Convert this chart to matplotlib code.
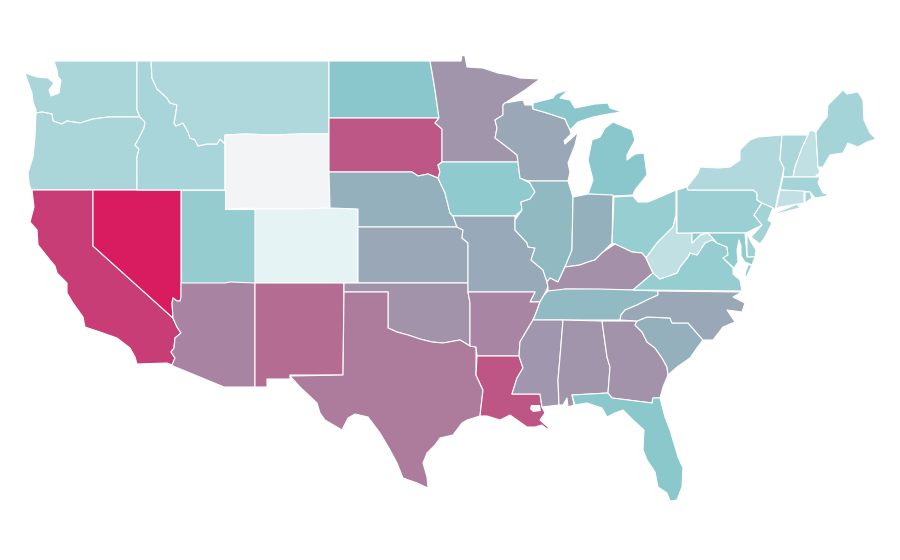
import matplotlib
matplotlib.use("Agg")
import matplotlib.pyplot as plt
from matplotlib.collections import PolyCollection
from matplotlib.colors import LinearSegmentedColormap, Normalize

STATES = ["WA","OR","CA","NV","ID","MT","WY","UT","CO","AZ","NM","ND","SD","NE","KS","OK","TX",
          "MN","IA","MO","AR","LA","WI","IL","MI","IN","OH","KY","TN","MS","AL","GA","FL","SC","NC",
          "VA","WV","PA","NY","VT","NH","ME","MA","CT","RI","NJ","DE","MD"]
VALUES = [24.5,24.5,87,100,25,23,0,32,5,60.5,69.5,35.5,77,44,47.5,55,63.5,
          54,33.5,46.5,60,77.5,47.5,41,35.5,44,30.5,56,40.5,53.5,54,55,35,44,47.5,
          31,17,29.5,22,24,17,26.5,26,17,26,27,28.5,33]
COLOR_STOPS = [(0.0,"#f3f4f6"),(0.05,"#e5f3f4"),(0.17,"#c0e0e3"),(0.35,"#8ac8cc"),(1.0,"#d91b60")]

# Simplified state outlines in map units (map geometry, not data values)
SHAPES = {
"WA":[[(54,61),(137,61),(137,110),(140,117),(108,117),(93,119),(80,123),(67,121),(62,124),(53,121),(52,114),(42,112),(36,113),(36,110),(33,102),(32,93),(28,82),(25,73),(37,77),(48,78),(54,83),(49,90),(51,96),(59,93),(61,80),(58,77),(57,70)]],
"OR":[[(36,113),(42,112),(52,114),(53,121),(62,124),(67,121),(80,123),(93,119),(108,117),(140,117),(145,122),(144,128),(139,138),(135,145),(139,149),(137,157),(137,190),(31,190),(29,183),(28,173),(33,157),(35,137)]],
"CA":[[(32,190),(93,190),(93,246),(173,318),(177,327),(181,333),(175,338),(174,348),(171,352),(175,358),(172,365),(167,363),(137,364),(135,357),(130,348),(117,338),(100,332),(85,327),(83,317),(73,303),(67,293),(67,283),(57,273),(55,266),(50,260),(38,245),(37,230),(30,222),(34,207)]],
"NV":[[(93,190),(181,190),(181,297),(180,301),(177,301),(173,298),(172,303),(173,318),(93,246)]],
"ID":[[(137,61),(151,61),(152,78),(157,89),(167,98),(170,103),(177,105),(175,118),(174,123),(176,126),(183,123),(188,132),(190,138),(195,140),(198,146),(207,144),(217,144),(220,139),(225,144),(225,190),(137,190),(137,157),(139,149),(135,145),(139,138),(144,128),(145,122),(140,117),(137,110)]],
"MT":[[(151,61),(329,61),(329,134),(300,134),(272,135),(245,134),(225,135),(225,144),(220,139),(217,144),(207,144),(198,146),(195,140),(190,138),(188,132),(183,123),(176,126),(174,123),(175,118),(177,105),(170,103),(167,98),(157,89),(152,78)]],
"WY":[[(225,135),(245,134),(272,135),(300,134),(329,134),(330,208),(300,209),(272,209),(245,208),(225,209)]],
"UT":[[(181,190),(225,190),(225,209),(255,209),(255,283),(181,283)]],
"CO":[[(255,209),(300,209),(330,208),(358,209),(358,283),(255,283)]],
"AZ":[[(181,283),(225,283),(230,282),(255,283),(255,387),(224,387),(173,366),(172,365),(175,358),(171,352),(174,348),(175,338),(181,333),(177,327),(173,318),(172,303),(173,298),(177,301),(180,301),(181,297)]],
"NM":[[(255,283),(344,283),(343,375),(290,375),(290,379),(267,379),(267,387),(255,387)]],
"ND":[[(329,61),(430,61),(432,72),(435,90),(439,118),(329,118)]],
"SD":[[(329,118),(439,118),(435,123),(442,129),(442,162),(438,165),(440,172),(438,178),(428,174),(418,176),(412,172),(329,172)]],
"NE":[[(329,172),(412,172),(418,176),(428,174),(438,178),(445,193),(450,213),(453,216),(457,227),(358,227),(358,209),(330,208)]],
"KS":[[(358,227),(457,227),(463,230),(462,238),(468,243),(468,283),(358,283)]],
"OK":[[(344,283),(468,283),(468,292),(470,303),(470,346),(460,340),(443,343),(432,342),(420,339),(408,335),(397,332),(388,328),(388,292),(344,292)]],
"TX":[[(344,292),(388,292),(388,328),(397,332),(408,335),(420,339),(432,342),(443,343),(460,340),(470,346),(476,347),(476,375),(483,390),(481,407),(480,416),(467,420),(462,423),(453,435),(440,438),(435,445),(427,453),(423,463),(427,477),(428,488),(417,483),(403,478),(397,463),(390,450),(380,433),(368,417),(355,414),(348,418),(342,430),(325,420),(320,413),(317,403),(300,387),(290,376),(343,375)]],
"MN":[[(430,61),(461,61),(462,55),(465,56),(467,67),(483,68),(498,73),(510,75),(520,78),(540,79),(525,90),(505,103),(503,105),(503,115),(495,120),(497,128),(495,138),(507,147),(517,155),(518,162),(442,162),(442,129),(435,123),(439,118),(435,90),(432,72)]],
"IA":[[(442,162),(518,162),(520,178),(530,183),(535,192),(530,199),(521,202),(522,210),(515,216),(453,216),(450,213),(445,193),(438,178),(440,172),(438,165)]],
"MO":[[(453,216),(515,216),(515,230),(527,243),(528,247),(535,248),(531,260),(543,270),(547,282),(548,287),(544,295),(540,302),(530,302),(535,292),(468,292),(468,243),(462,238),(463,230),(457,227)]],
"AR":[[(468,292),(535,292),(530,302),(540,302),(536,313),(533,320),(527,330),(520,342),(519,356),(477,356),(476,347),(470,346),(470,303)]],
"LA":[[(477,356),(519,356),(523,368),(517,378),(512,394),(540,394),(542,407),(545,413),(540,420),(548,427),(548,430),(542,425),(535,427),(527,427),(510,415),(500,420),(487,416),(480,416),(481,407),(483,390),(476,375)]],
"WI":[[(503,105),(505,103),(523,100),(525,105),(532,105),(533,109),(547,113),(565,119),(570,130),(571,134),(564,141),(565,144),(572,138),(578,132),(575,145),(568,163),(570,172),(568,181),(528,181),(520,178),(518,162),(517,155),(507,147),(495,138),(497,128),(495,120),(503,115)]],
"IL":[[(528,181),(568,181),(573,197),(572,250),(565,267),(558,282),(550,278),(547,282),(543,270),(531,260),(535,248),(528,247),(527,243),(515,230),(515,220),(522,210),(521,202),(530,199),(535,192),(530,183)]],
"MI":[[(533,109),(533,103),(553,98),(555,95),(558,93),(568,90),(560,98),(570,100),(575,108),(595,104),(608,103),(610,108),(622,112),(608,114),(593,117),(578,122),(570,130),(565,119),(547,113)],
      [(613,122),(632,130),(635,140),(627,155),(627,160),(635,154),(644,153),(647,175),(635,190),(633,195),(614,196),(588,194),(593,180),(588,160),(592,140),(600,137),(605,128)],
      [(550,81),(555,78),(553,81)]],
"IN":[[(573,197),(588,194),(613,195),(612,243),(603,252),(595,260),(588,262),(580,265),(565,267),(572,250)]],
"OH":[[(614,197),(633,196),(638,202),(648,202),(660,197),(676,190),(676,215),(673,227),(657,243),(646,258),(642,253),(632,252),(615,244),(612,243)]],
"KY":[[(548,291),(565,291),(565,289),(633,290),(653,273),(646,258),(642,253),(632,252),(615,244),(603,252),(595,260),(588,262),(580,265),(565,267),(558,282),(550,278),(547,282),(548,287)]],
"TN":[[(548,291),(565,289),(600,289),(633,290),(658,291),(658,295),(647,300),(637,305),(625,310),(621,315),(620,320),(563,320),(533,320),(536,313),(540,302),(544,295)]],
"MS":[[(533,320),(563,320),(560,357),(558,380),(559,405),(542,407),(540,394),(512,394),(517,378),(523,368),(519,356),(520,342),(527,330)]],
"AL":[[(563,320),(602,321),(607,357),(610,367),(608,393),(572,395),(574,405),(568,407),(567,398),(563,405),(559,405),(558,380),(560,357)]],
"GA":[[(602,321),(637,321),(635,325),(642,332),(647,342),(655,348),(662,358),(667,367),(668,375),(663,387),(660,398),(653,398),(652,403),(612,398),(608,393),(610,367),(607,357)]],
"FL":[[(572,395),(608,393),(612,398),(652,403),(653,398),(660,398),(665,417),(670,430),(678,457),(683,468),(682,487),(677,500),(670,501),(667,493),(658,487),(655,472),(647,460),(643,450),(644,430),(633,420),(623,410),(615,413),(607,417),(602,408),(587,403),(575,405)]],
"SC":[[(637,321),(647,317),(670,318),(672,323),(688,323),(703,340),(697,348),(690,358),(677,367),(668,375),(667,367),(662,358),(655,348),(647,342),(642,332),(635,325)]],
"NC":[[(658,291),(742,292),(733,297),(745,303),(742,312),(727,310),(735,322),(723,327),(713,340),(703,340),(688,323),(672,323),(670,318),(647,317),(637,321),(620,320),(621,315),(625,310),(637,305),(647,300),(658,295)]],
"VA":[[(633,290),(653,273),(660,279),(677,273),(680,267),(688,257),(690,253),(697,255),(705,243),(712,237),(717,243),(727,247),(728,255),(723,258),(733,268),(733,274),(740,280),(742,291)],
      [(752,265),(746,278),(745,274),(748,265)]],
"WV":[[(676,215),(677,233),(692,233),(692,243),(700,235),(708,233),(717,243),(712,240),(705,243),(697,255),(690,253),(688,257),(680,267),(677,273),(660,279),(653,273),(646,258),(657,243),(673,227)]],
"PA":[[(677,190),(687,187),(688,190),(753,190),(757,193),(757,200),(762,203),(754,215),(762,225),(748,232),(745,233),(677,233)]],
"NY":[[(687,187),(698,173),(700,167),(718,168),(730,167),(740,160),(740,150),(750,140),(758,137),(782,135),(780,160),(784,168),(780,187),(778,195),(775,210),(773,208),(762,203),(757,200),(757,193),(753,190),(688,190)],
      [(773,215),(780,211),(797,204),(800,208),(788,211)]],
"VT":[[(782,135),(808,135),(802,148),(795,167),(793,177),(783,177),(784,168),(780,160)]],
"NH":[[(808,135),(810,130),(816,132),(818,167),(820,172),(815,177),(793,177),(795,167),(802,148)]],
"ME":[[(816,132),(822,123),(827,117),(828,105),(840,93),(843,90),(847,94),(858,92),(863,100),(864,120),(870,133),(876,139),(867,142),(858,147),(848,143),(843,153),(830,155),(823,167),(818,167)]],
"MA":[[(783,177),(815,177),(820,177),(818,183),(823,193),(830,195),(822,197),(815,198),(810,192),(780,190)]],
"CT":[[(780,190),(804,191),(804,203),(780,207),(776,209)]],
"RI":[[(805,192),(810,192),(812,198),(805,203)]],
"NJ":[[(762,203),(773,208),(768,220),(772,223),(765,237),(760,244),(751,237),(762,225),(754,215)]],
"DE":[[(747,233),(750,240),(756,250),(755,257),(747,257)]],
"MD":[[(692,233),(745,233),(747,257),(755,257),(752,265),(745,262),(741,256),(741,246),(739,240),(737,250),(738,262),(734,268),(723,258),(728,255),(727,247),(717,243),(708,233),(700,235),(692,243)]],
}
LAKE = [(531,405),(540,405),(541,411),(533,412),(530,409)]

cmap = LinearSegmentedColormap.from_list("usmap", COLOR_STOPS)
norm = Normalize(0, 100)

fig = plt.figure(figsize=(9, 5.6), dpi=100)
ax = fig.add_axes([0, 0, 1, 1])
verts, vals = [], []
for name, value in zip(STATES, VALUES):
    for part in SHAPES[name]:
        verts.append(part)
        vals.append(value)
coll = PolyCollection(verts, array=vals, cmap=cmap, norm=norm,
                      edgecolors="white", linewidths=0.8, antialiaseds=True)
ax.add_collection(coll)
ax.fill(*zip(*LAKE), color="white", lw=0)
ax.set_xlim(0, 900)
ax.set_ylim(560, 0)
ax.axis("off")
fig.savefig("out.png", dpi=100, facecolor="white")
